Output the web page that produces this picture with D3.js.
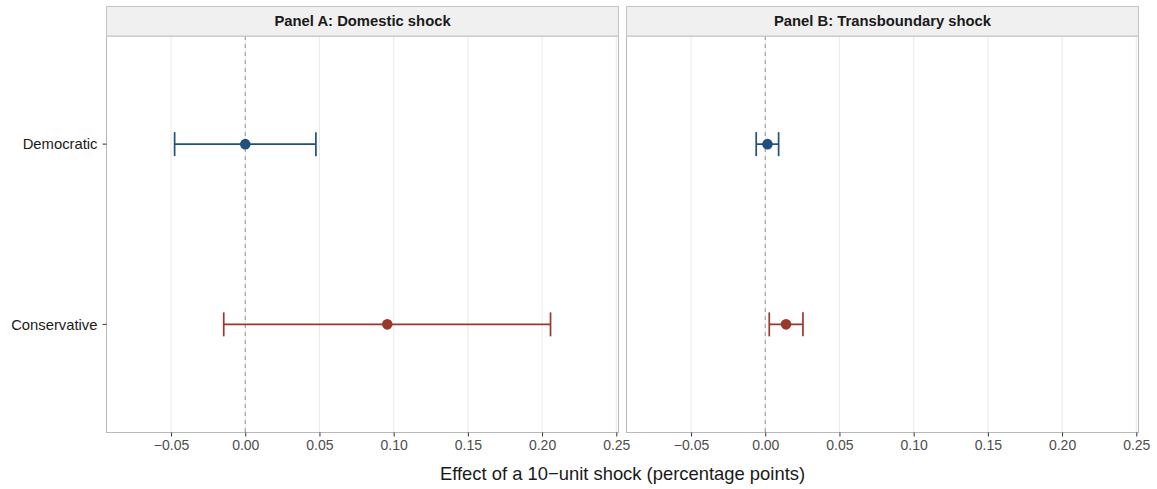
<!DOCTYPE html>
<html>
<head>
<meta charset="utf-8">
<script src="https://cdn.jsdelivr.net/npm/d3@7"></script>
<style>
  html, body { margin: 0; padding: 0; background: #fff; }
  svg { display: block; font-family: "Liberation Sans", Arial, Helvetica, sans-serif; }
</style>
</head>
<body>
<svg id="chart" width="1157" height="489"></svg>
<script>
// Panels, groups and estimates (with 95% interval bounds)
const panels = ["Panel A: Domestic shock", "Panel B: Transboundary shock"];
const groups = ["Democratic", "Conservative"];
const groupColors = ["#21507f", "#98392a"];
const estimates = [[0.000, 0.0957], [0.0015, 0.014]];
const lower = [[-0.0476, -0.0145], [-0.0061, 0.0027]];
const upper = [[0.0476, 0.2057], [0.0090, 0.0254]];
const xTicks = [-0.05, 0.00, 0.05, 0.10, 0.15, 0.20, 0.25];
const xDomain = [-0.0935, 0.2515];
const xTitle = "Effect of a 10\u2212unit shock (percentage points)";

const svg = d3.select("#chart");
const panelLeft = [106.5, 626.5];
const panelWidth = 512;
const stripTop = 6.5, stripH = 29.5;
const panelTop = stripTop + stripH, panelBottom = 432.5;

// discrete y axis with 0.6 units of expansion on either side
const y = d3.scalePoint().domain(groups).range([panelTop, panelBottom]).padding(0.6);

const fmt = d => d3.format(".2f")(d).replace("-", "\u2212");

panels.forEach((title, p) => {
  const x = d3.scaleLinear().domain(xDomain).range([panelLeft[p], panelLeft[p] + panelWidth]);
  const g = svg.append("g");

  // panel background
  g.append("rect")
    .attr("x", panelLeft[p]).attr("y", panelTop)
    .attr("width", panelWidth).attr("height", panelBottom - panelTop)
    .attr("fill", "#fff");

  // vertical grid lines
  g.selectAll("line.grid").data(xTicks).join("line")
    .attr("class", "grid")
    .attr("x1", d => x(d)).attr("x2", d => x(d))
    .attr("y1", panelTop).attr("y2", panelBottom)
    .attr("stroke", "#ebebeb").attr("stroke-width", 1.1);

  // reference line at zero
  g.append("line")
    .attr("x1", x(0)).attr("x2", x(0))
    .attr("y1", panelTop).attr("y2", panelBottom)
    .attr("stroke", "#9e9e9e").attr("stroke-width", 1.1)
    .attr("stroke-dasharray", "4,4");

  // error bars and points
  groups.forEach((grp, i) => {
    const yy = y(grp);
    const col = groupColors[i];
    g.append("line")
      .attr("x1", x(lower[p][i])).attr("x2", x(upper[p][i]))
      .attr("y1", yy).attr("y2", yy)
      .attr("stroke", col).attr("stroke-width", 1.7);
    [lower[p][i], upper[p][i]].forEach(v => {
      g.append("line")
        .attr("x1", x(v)).attr("x2", x(v))
        .attr("y1", yy - 12).attr("y2", yy + 12)
        .attr("stroke", col).attr("stroke-width", 1.7);
    });
    g.append("circle")
      .attr("cx", x(estimates[p][i])).attr("cy", yy).attr("r", 5.3)
      .attr("fill", col);
  });

  // panel border
  g.append("rect")
    .attr("x", panelLeft[p]).attr("y", panelTop)
    .attr("width", panelWidth).attr("height", panelBottom - panelTop)
    .attr("fill", "none").attr("stroke", "#b8b8b8").attr("stroke-width", 1);

  // strip
  g.append("rect")
    .attr("x", panelLeft[p]).attr("y", stripTop)
    .attr("width", panelWidth).attr("height", stripH)
    .attr("fill", "#f0f0f0").attr("stroke", "#c4c4c4").attr("stroke-width", 1);
  g.append("text")
    .attr("x", panelLeft[p] + panelWidth / 2).attr("y", 26.3)
    .attr("text-anchor", "middle")
    .attr("font-size", 14.8).attr("font-weight", "bold").attr("fill", "#1a1a1a")
    .text(title);

  // x axis
  const ax = g.append("g").attr("transform", `translate(0,${panelBottom})`)
    .call(d3.axisBottom(x).tickValues(xTicks).tickFormat(fmt).tickSize(4).tickPadding(4));
  ax.select(".domain").remove();
  ax.selectAll(".tick line").attr("stroke", "#333").attr("stroke-width", 1);
  ax.selectAll(".tick text").attr("fill", "#4d4d4d").attr("font-size", 14)
    .attr("font-family", "Liberation Sans, Arial, sans-serif");
});

// y axis (left panel only)
groups.forEach(grp => {
  const yy = y(grp);
  svg.append("line")
    .attr("x1", panelLeft[0] - 4).attr("x2", panelLeft[0])
    .attr("y1", yy).attr("y2", yy)
    .attr("stroke", "#333").attr("stroke-width", 1);
  svg.append("text")
    .attr("x", panelLeft[0] - 9).attr("y", yy + 5.3)
    .attr("text-anchor", "end").attr("font-size", 14.8).attr("fill", "#1a1a1a")
    .text(grp);
});

// x axis title
svg.append("text")
  .attr("x", (panelLeft[0] + panelLeft[1] + panelWidth) / 2).attr("y", 480)
  .attr("text-anchor", "middle").attr("font-size", 18.4).attr("fill", "#1a1a1a")
  .text(xTitle);
</script>
</body>
</html>
